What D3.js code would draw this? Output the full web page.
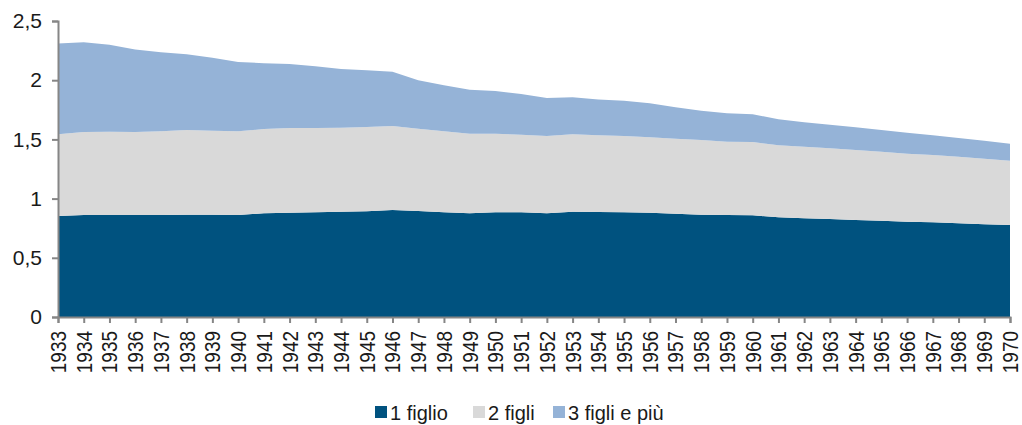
<!DOCTYPE html>
<html>
<head>
<meta charset="utf-8">
<script src="https://cdn.jsdelivr.net/npm/d3@7/dist/d3.min.js"></script>
<style>
  html, body { margin: 0; padding: 0; background: #fff; }
  svg { display: block; font-family: "Liberation Sans", Arial, sans-serif; }
</style>
</head>
<body>
<svg id="chart" width="1022" height="425"></svg>
<script>
const years = [1933,1934,1935,1936,1937,1938,1939,1940,1941,1942,1943,1944,1945,1946,1947,1948,1949,1950,1951,1952,1953,1954,1955,1956,1957,1958,1959,1960,1961,1962,1963,1964,1965,1966,1967,1968,1969,1970];
const unFiglio = [0.853,0.861,0.861,0.861,0.862,0.864,0.864,0.861,0.876,0.881,0.884,0.889,0.893,0.904,0.895,0.884,0.876,0.884,0.884,0.876,0.889,0.887,0.884,0.881,0.873,0.864,0.861,0.859,0.842,0.833,0.828,0.819,0.813,0.805,0.800,0.791,0.783,0.777];
const dueFigli = [0.690,0.702,0.704,0.702,0.706,0.716,0.710,0.707,0.712,0.715,0.712,0.710,0.712,0.709,0.695,0.684,0.672,0.664,0.656,0.653,0.654,0.647,0.645,0.637,0.633,0.631,0.620,0.619,0.608,0.605,0.597,0.591,0.583,0.574,0.568,0.563,0.554,0.543];
const treFigli = [0.767,0.757,0.735,0.697,0.668,0.640,0.616,0.586,0.555,0.541,0.521,0.496,0.478,0.459,0.410,0.389,0.372,0.361,0.343,0.321,0.313,0.304,0.298,0.287,0.265,0.247,0.239,0.234,0.220,0.206,0.199,0.192,0.183,0.178,0.166,0.158,0.152,0.144];
const seriesNames = ["1 figlio", "2 figli", "3 figli e più"];
const seriesColors = ["#00527f", "#d9d9d9", "#95b3d7"];
const yTicks = [0, 0.5, 1, 1.5, 2, 2.5];

(function () {
const svg = d3.select("#chart");
const mLeft = 58, mRight = 1010, mTop = 21, mBottom = 317;

const rows = years.map((yr, i) => ({ year: yr, s0: unFiglio[i], s1: dueFigli[i], s2: treFigli[i] }));
const stacked = d3.stack().keys(["s0", "s1", "s2"])(rows);

const x = d3.scaleLinear().domain([years[0], years[years.length - 1]]).range([mLeft, mRight]);
const y = d3.scaleLinear().domain([0, 2.5]).range([mBottom, mTop]);

const area = d3.area()
  .x(d => x(d.data.year))
  .y0(d => y(d[0]))
  .y1(d => y(d[1]));

svg.append("g").selectAll("path").data(stacked).join("path")
  .attr("d", area)
  .attr("fill", (d, i) => seriesColors[i]);

const axisColor = "#868686";
const textColor = "#1a1a1a";

// Y axis
const yAxis = svg.append("g").attr("transform", `translate(${mLeft},0)`)
  .call(d3.axisLeft(y).tickValues(yTicks).tickSize(6).tickPadding(10)
    .tickFormat(d => String(d).replace(".", ",")));
yAxis.select(".domain").attr("stroke", axisColor).attr("stroke-width", 2);
yAxis.selectAll(".tick line").attr("stroke", axisColor).attr("stroke-width", 2);
yAxis.selectAll(".tick text").attr("fill", textColor).attr("font-size", 21)
  .attr("font-family", "Liberation Sans, Arial, sans-serif");

// X axis
const xAxis = svg.append("g").attr("transform", `translate(0,${mBottom})`)
  .call(d3.axisBottom(x).tickValues(years).tickSize(6).tickFormat(d => String(d)));
xAxis.select(".domain").attr("stroke", axisColor).attr("stroke-width", 2);
xAxis.selectAll(".tick line").attr("stroke", axisColor).attr("stroke-width", 2);
xAxis.selectAll(".tick text")
  .attr("fill", textColor)
  .attr("font-size", 19)
  .attr("font-family", "Liberation Sans, Arial, sans-serif")
  .attr("text-anchor", "end")
  .attr("dy", "0.35em")
  .attr("y", 0)
  .attr("x", -14)
  .attr("transform", "rotate(-90) scale(1,1.12)");

// Legend
const legendX = [375, 473, 553];
const legend = svg.append("g");
seriesNames.forEach((name, i) => {
  legend.append("rect").attr("x", legendX[i]).attr("y", 406).attr("width", 12).attr("height", 12)
    .attr("fill", seriesColors[i]);
  legend.append("text").attr("x", legendX[i] + 15).attr("y", 420)
    .attr("font-size", 20).attr("fill", textColor).text(name);
});
})();
</script>
</body>
</html>
